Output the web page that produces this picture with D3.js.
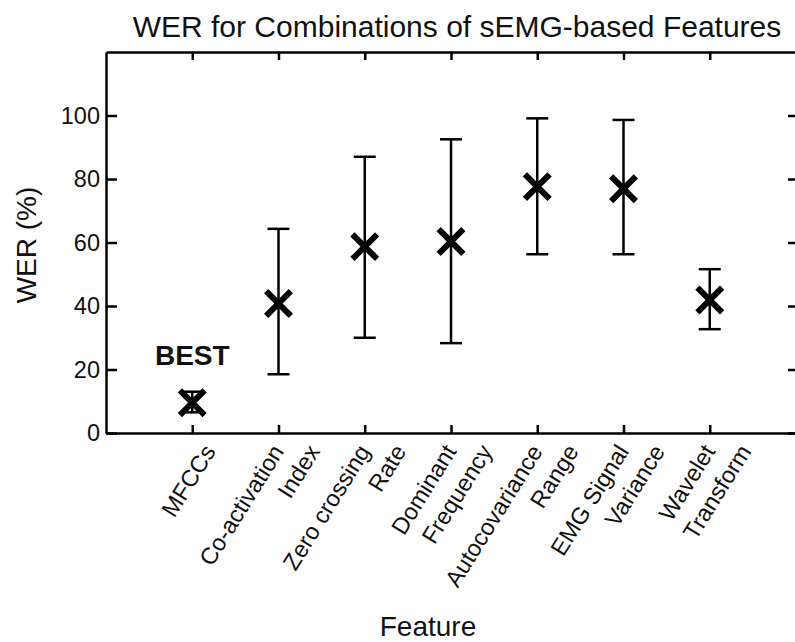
<!DOCTYPE html>
<html>
<head>
<meta charset="utf-8">
<script src="https://cdn.jsdelivr.net/npm/d3@7"></script>
<style>
	body{margin:0;background:#fff;}
	svg{display:block;font-family:"Liberation Sans",Arial,sans-serif;}
	.axis path,.axis line{stroke:#000;stroke-width:2.5;}
	.axis text{font-size:23.5px;fill:#111;}
</style>
</head>
<body>
<div id="chart"></div>
<script>
// feature names, one entry per line of the tick label
var features = [
	["MFCCs"],
	["Co-activation", "Index"],
	["Zero crossing", "Rate"],
	["Dominant", "Frequency"],
	["Autocovariance", "Range"],
	["EMG Signal", "Variance"],
	["Wavelet", "Transform"]
]
// WER (%): marker value, bottom and top of the bar
var werMean = [9.5, 40.8, 58.7, 60.3, 77.6, 76.9, 41.9]
var werLow  = [6.5, 18.5, 30.0, 28.3, 56.3, 56.3, 32.7]
var werHigh = [13.0, 64.3, 87.0, 92.5, 99.1, 98.6, 51.6]
var yTicks = [0, 20, 40, 60, 80, 100]
var best = {text: "BEST", pos: 1, value: 21.4}

var width = 795, height = 642

var svg = d3.select("#chart").append("svg")
	.attr("width", width)
	.attr("height", height)

var xScale = d3.scaleLinear()
	.domain([0, features.length + 1])
	.range([106, 796])

var yScale = d3.scaleLinear()
	.domain([0, 120])
	.range([433, 52])

var pos = features.map(function(d, i) { return i + 1 })

// box: four axes, ticks pointing inward
svg.append("g")
	.attr("class", "axis")
	.attr("transform", "translate(" + xScale.range()[0] + ",0)")
	.call(d3.axisLeft(yScale).tickValues(yTicks).tickSizeInner(-11).tickSizeOuter(0).tickPadding(6))

svg.append("g")
	.attr("class", "axis")
	.attr("transform", "translate(" + xScale.range()[1] + ",0)")
	.call(d3.axisRight(yScale).tickValues(yTicks).tickSizeInner(-8).tickSizeOuter(0).tickFormat(""))

svg.append("g")
	.attr("class", "axis")
	.attr("transform", "translate(0," + yScale.range()[0] + ")")
	.call(d3.axisBottom(xScale).tickValues(pos).tickSizeInner(-8).tickSizeOuter(0).tickFormat(""))

svg.append("g")
	.attr("class", "axis")
	.attr("transform", "translate(0," + yScale.range()[1] + ")")
	.call(d3.axisTop(xScale).tickValues(pos).tickSizeInner(-8).tickSizeOuter(0).tickFormat(""))

// rotated multi-line feature labels
var labels = svg.append("g")
	.style("font-size", "23.5px")
	.attr("fill", "#111")

features.forEach(function(lines, i) {
	var n = lines.length
	lines.forEach(function(t, j) {
		var lx = xScale(i + 1) + 19 + (j - (n - 1) / 2) * 36
		var ly = yScale.range()[0] + 15
		labels.append("text")
			.attr("transform", "translate(" + lx + "," + ly + ") rotate(-58)")
			.attr("text-anchor", "end")
			.attr("dominant-baseline", "middle")
			.text(t)
	})
})

// error bars
var bars = svg.append("g")
	.attr("stroke", "#000")
	.attr("stroke-width", 2.5)
	.attr("fill", "none")

var capW = 11
pos.forEach(function(p, i) {
	var cx = xScale(p)
	bars.append("line")
		.attr("x1", cx).attr("x2", cx)
		.attr("y1", yScale(werLow[i])).attr("y2", yScale(werHigh[i]))
	bars.append("line")
		.attr("x1", cx - capW).attr("x2", cx + capW)
		.attr("y1", yScale(werLow[i])).attr("y2", yScale(werLow[i]))
	bars.append("line")
		.attr("x1", cx - capW).attr("x2", cx + capW)
		.attr("y1", yScale(werHigh[i])).attr("y2", yScale(werHigh[i]))
})

// x markers
var marker = d3.symbol().type(d3.symbolTimes).size(400)
svg.append("g")
	.selectAll("path")
	.data(werMean)
	.enter()
	.append("path")
	.attr("transform", function(d, i) { return "translate(" + xScale(i + 1) + "," + yScale(d) + ")" })
	.attr("d", marker)
	.attr("fill", "none")
	.attr("stroke", "#000")
	.attr("stroke-width", 6)

svg.append("text")
	.attr("x", xScale(best.pos))
	.attr("y", yScale(best.value))
	.attr("text-anchor", "middle")
	.style("font-size", "28px")
	.style("font-weight", "bold")
	.attr("fill", "#111")
	.text(best.text)

// titles
svg.append("text")
	.attr("x", 457)
	.attr("y", 37)
	.attr("text-anchor", "middle")
	.style("font-size", "30px")
	.attr("fill", "#111")
	.text("WER for Combinations of sEMG-based Features")

svg.append("text")
	.attr("transform", "translate(36,245) rotate(-90)")
	.attr("text-anchor", "middle")
	.style("font-size", "28px")
	.attr("fill", "#111")
	.text("WER (%)")

svg.append("text")
	.attr("x", 428)
	.attr("y", 636)
	.attr("text-anchor", "middle")
	.style("font-size", "28px")
	.attr("fill", "#111")
	.text("Feature")
</script>
</body>
</html>
